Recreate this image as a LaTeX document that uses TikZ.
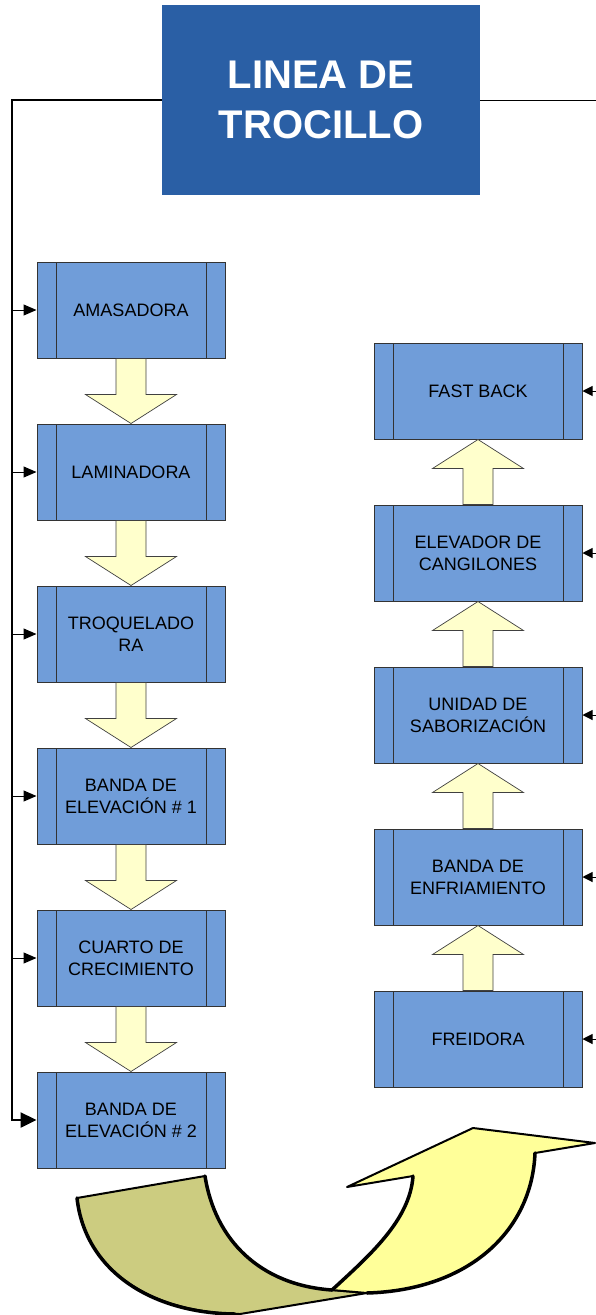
\documentclass[tikz,border=0pt]{standalone}
\usepackage{fontspec}
\setmainfont{Liberation Sans}
\usetikzlibrary{positioning,arrows.meta,calc}

\definecolor{titleblue}{RGB}{42,95,165}
\definecolor{boxblue}{RGB}{112,157,217}
\definecolor{paleyellow}{RGB}{255,255,204}
\definecolor{bigyellow}{RGB}{255,255,153}
\definecolor{tailolive}{RGB}{204,204,128}

\newcommand{\pasoflecha}[2]{%
  \coordinate (hb) at ($(#2)!29pt!(#1)$);
  \draw[blockarrow] ([xshift=-15pt]#1) -- ([xshift=-15pt]hb) -- ([xshift=-45.5pt]hb) -- (#2)
    -- ([xshift=45.5pt]hb) -- ([xshift=15pt]hb) -- ([xshift=15pt]#1) -- cycle;}

\begin{document}
\begin{tikzpicture}[x=1pt,y=1pt,node distance=65pt,
    proc/.style={draw=black!80,line width=1pt,fill=boxblue,minimum height=96pt,inner sep=0pt,
      align=center,font=\fontsize{18}{22}\selectfont,
      path picture={\draw[black!80,line width=1pt]
        ([xshift=19pt]path picture bounding box.north west) -- ([xshift=19pt]path picture bounding box.south west)
        ([xshift=-19pt]path picture bounding box.north east) -- ([xshift=-19pt]path picture bounding box.south east);}},
    procL/.style={proc,minimum width=188pt},
    procR/.style={proc,minimum width=208pt},
    blockarrow/.style={draw=black!75,line width=0.7pt,fill=paleyellow,line join=miter},
    bus/.style={line width=2.5pt,black},
    rama/.style={line width=1pt,black,-{Triangle[length=13pt,width=11pt]}},
    cinta/.style={draw=black,line width=2pt,line join=round},
    borde/.style={line width=3.5pt,black,line cap=round}]
    \useasboundingbox (0,0) rectangle (596,-1315);

    \node[fill=titleblue,minimum width=318pt,minimum height=190pt,inner sep=0pt,align=center,
      text=white,font=\bfseries\fontsize{40}{50}\selectfont] (title) at (321,-100) {LINEA DE\\TROCILLO};

    \node[procL] (ama) at (131,-310) {AMASADORA};
    \node[procL,below=of ama] (lam) {LAMINADORA};
    \node[procL,below=of lam] (troq) {TROQUELADO\\RA};
    \node[procL,below=of troq] (ban1) {BANDA DE\\ELEVACIÓN \# 1};
    \node[procL,below=of ban1] (cuarto) {CUARTO DE\\CRECIMIENTO};
    \node[procL,below=of cuarto] (ban2) {BANDA DE\\ELEVACIÓN \# 2};

    \node[procR] (fast) at (478,-391) {FAST BACK};
    \node[procR,below=of fast] (elev) {ELEVADOR DE\\CANGILONES};
    \node[procR,below=of elev] (sab) {UNIDAD DE\\SABORIZACIÓN};
    \node[procR,below=of sab] (enf) {BANDA DE\\ENFRIAMIENTO};
    \node[procR,below=of enf] (frei) {FREIDORA};

    \pasoflecha{ama.south}{lam.north}
    \pasoflecha{lam.south}{troq.north}
    \pasoflecha{troq.south}{ban1.north}
    \pasoflecha{ban1.south}{cuarto.north}
    \pasoflecha{cuarto.south}{ban2.north}

    \pasoflecha{frei.north}{enf.south}
    \pasoflecha{enf.north}{sab.south}
    \pasoflecha{sab.north}{elev.south}
    \pasoflecha{elev.north}{fast.south}

    \coordinate (busL) at (12,-100);
    \coordinate (busR) at (596,-100);

    \draw[bus,-{Triangle[length=16pt,width=15pt]}] (title.west) -- (busL) |- (ban2.west);
    \draw[line width=1pt] (title.east) -- (busR);

    \foreach \n in {ama,lam,troq,ban1,cuarto}
        \draw[rama] (busL |- \n.west) -- (\n.west);
    \foreach \n in {fast,elev,sab,enf,frei}
        \draw[rama,-{Triangle[length=10pt,width=10pt]}] (busR |- \n.east) -- (\n.east);

    \filldraw[cinta,fill=tailolive]
        (77,-1198) -- (205,-1176) .. controls (215,-1240) and (260,-1285) .. (332,-1290)
        -- (367,-1293) -- (240,-1314) .. controls (150,-1313) and (85,-1270) .. (77,-1198) -- cycle;
    \draw[borde] (77,-1198) .. controls (85,-1270) and (150,-1313) .. (235,-1314);
    \draw[borde] (205,-1176) .. controls (215,-1240) and (260,-1285) .. (332,-1290);
    \filldraw[cinta,fill=bigyellow]
        (332,-1290) .. controls (370,-1255) and (410,-1220) .. (413,-1176)
        -- (347,-1187) -- (473,-1128) -- (595,-1143) -- (535,-1153)
        .. controls (532,-1230) and (470,-1290) .. (367,-1293) -- cycle;
    \draw[borde] (332,-1290) .. controls (370,-1255) and (410,-1220) .. (413,-1176);
    \draw[borde] (535,-1153) .. controls (532,-1230) and (470,-1290) .. (367,-1293);
\end{tikzpicture}
\end{document}
